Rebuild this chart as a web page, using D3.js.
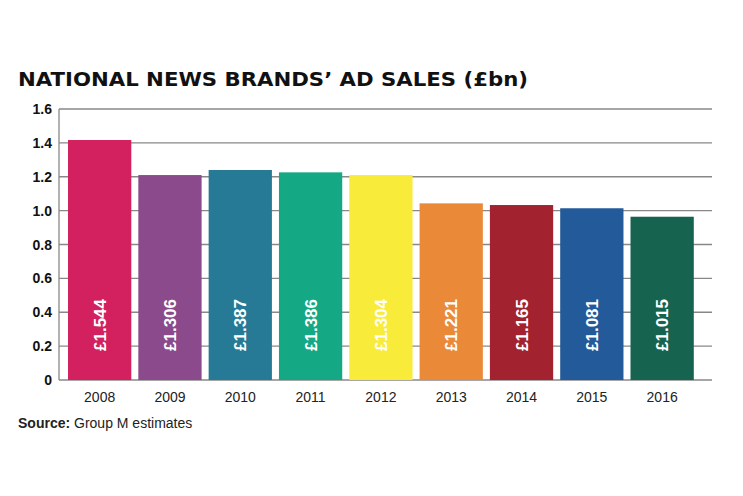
<!DOCTYPE html>
<html><head><meta charset="utf-8">
<script src="https://cdn.jsdelivr.net/npm/d3@7/dist/d3.min.js"></script>
<style>body{margin:0;background:#fff}</style></head>
<body><svg id="c" width="743" height="496"></svg>
<script>
const years = ["2008","2009","2010","2011","2012","2013","2014","2015","2016"];
const barHeights = [1.417,1.21,1.24,1.226,1.21,1.043,1.033,1.014,0.964];
const barLabels = ["£1.544","£1.306","£1.387","£1.386","£1.304","£1.221","£1.165","£1.081","£1.015"];
const colors = ["#d3215f","#8a4a8c","#267a95","#14a884","#f9eb3a","#ea8a38","#a3222f","#235a9a","#166350"];
const yTicks = [0,0.2,0.4,0.6,0.8,1.0,1.2,1.4,1.6];
const tickLabels = ["0","0.2","0.4","0.6","0.8","1.0","1.2","1.4","1.6"];

const svg = d3.select("#c");
const y = d3.scaleLinear().domain([0,1.6]).range([380,109]);
const x = d3.scaleBand().domain(years).range([64.5,697.3]).paddingInner(0.1).paddingOuter(0.05);

svg.append("text").attr("x",18).attr("y",86).attr("font-family","DejaVu Sans").attr("font-weight","bold")
  .attr("font-size",20).attr("fill","#111").attr("textLength",510).attr("lengthAdjust","spacingAndGlyphs")
  .text("NATIONAL NEWS BRANDS’ AD SALES (£bn)");

svg.selectAll(".grid").data(yTicks).join("line")
  .attr("x1",59).attr("x2",712).attr("y1",d=>y(d)).attr("y2",d=>y(d))
  .attr("stroke","#888").attr("stroke-width",1.3);
svg.append("line").attr("x1",59).attr("x2",59).attr("y1",y(1.6)).attr("y2",y(0)).attr("stroke","#888").attr("stroke-width",1.3);

svg.selectAll(".yl").data(yTicks).join("text")
  .attr("x",52).attr("y",d=>y(d)+5).attr("text-anchor","end")
  .attr("font-family","Liberation Sans Narrow, Liberation Sans").attr("font-weight","bold").attr("font-size",14).attr("fill","#111")
  .text((d,i)=>tickLabels[i]);

svg.selectAll(".bar").data(years).join("rect")
  .attr("x",d=>x(d)).attr("width",x.bandwidth())
  .attr("y",(d,i)=>y(barHeights[i])).attr("height",(d,i)=>y(0)-y(barHeights[i]))
  .attr("fill",(d,i)=>colors[i]);

svg.selectAll(".bl").data(years).join("text")
  .attr("transform",d=>`translate(${x(d)+x.bandwidth()/2+6},325) rotate(-90)`)
  .attr("text-anchor","middle").attr("font-family","Liberation Sans Narrow, Liberation Sans")
  .attr("font-weight","bold").attr("font-size",17).attr("fill","#fff")
  .text((d,i)=>barLabels[i]);

svg.selectAll(".xl").data(years).join("text")
  .attr("x",d=>x(d)+x.bandwidth()/2).attr("y",402).attr("text-anchor","middle")
  .attr("font-family","Liberation Sans").attr("font-size",14).attr("fill","#222").text(d=>d);

const s = svg.append("text").attr("x",18).attr("y",428).attr("font-family","Liberation Sans").attr("font-size",14).attr("fill","#222");
s.append("tspan").attr("font-weight","bold").text("Source:");
s.append("tspan").text(" Group M estimates");
</script></body></html>
